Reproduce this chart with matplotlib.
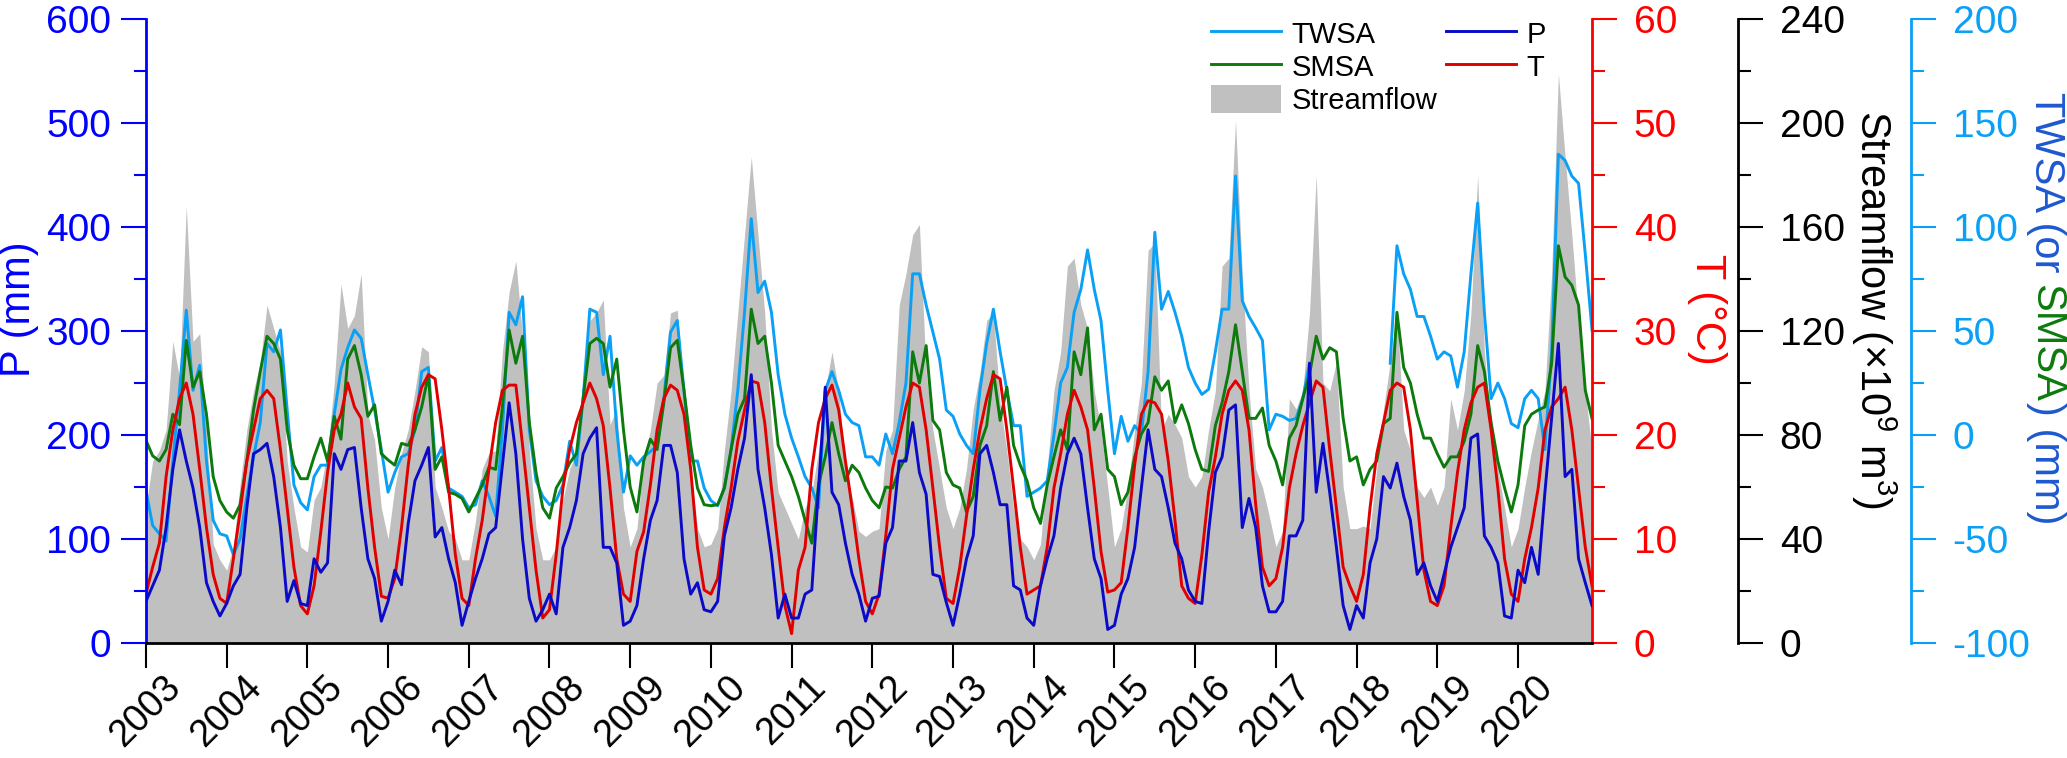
import numpy as np
import matplotlib
matplotlib.use('Agg')
import matplotlib.pyplot as plt
from matplotlib.patches import Patch
from matplotlib.ticker import MultipleLocator

plt.rcParams['font.family'] = ['Liberation Sans', 'DejaVu Sans']
plt.rcParams['axes.unicode_minus'] = False
plt.rcParams['mathtext.default'] = 'regular'

nan = np.nan
years = list(range(2003, 2021))

# monthly values, Jan 2003 - Dec 2020
p_mm = [
    40, 55, 70, 111, 167, 205, 175, 149, 111, 58, 40, 26,
    38, 55, 66, 130, 182, 186, 192, 160, 111, 40, 60, 38,
    36, 81, 68, 77, 182, 167, 186, 188, 130, 81, 62, 21,
    40, 70, 56, 115, 156, 171, 188, 102, 111, 81, 58, 17,
    40, 62, 81, 105, 111, 171, 231, 182, 100, 43, 21, 32,
    47, 28, 92, 111, 137, 182, 197, 207, 92, 92, 77, 17,
    21, 36, 81, 118, 137, 190, 190, 164, 81, 47, 58, 32,
    30, 40, 103, 130, 167, 197, 258, 167, 130, 85, 24, 47,
    24, 24, 47, 51, 149, 246, 145, 133, 96, 66, 47, 21,
    43, 45, 96, 111, 175, 175, 212, 164, 143, 66, 64, 39,
    17, 47, 81, 103, 182, 190, 164, 133, 133, 55, 51, 24,
    17, 55, 81, 103, 149, 182, 197, 182, 130, 81, 62, 13,
    17, 47, 62, 92, 149, 205, 167, 160, 130, 96, 81, 51,
    40, 38, 107, 164, 179, 224, 229, 111, 139, 111, 55, 30,
    30, 40, 103, 103, 118, 269, 145, 192, 145, 92, 36, 13,
    36, 24, 77, 100, 160, 149, 173, 141, 118, 66, 77, 55,
    40, 66, 92, 111, 130, 197, 201, 103, 92, 77, 26, 24,
    70, 58, 92, 66, 145, 216, 288, 160, 167, 81, 58, 36,
]

t_degc = [
    4.7, 7.3, 9.6, 16.0, 20.5, 23.5, 25.0, 22.0, 16.7, 11.1, 6.6, 4.3,
    3.8, 8.1, 12.6, 17.5, 20.5, 23.5, 24.3, 23.5, 18.6, 13.0, 7.3, 3.6,
    2.8, 5.5, 10.7, 16.4, 20.5, 22.0, 25.0, 22.7, 21.6, 14.9, 9.2, 4.5,
    4.3, 6.2, 11.1, 17.1, 22.0, 24.6, 25.8, 25.4, 20.5, 14.9, 8.5, 4.3,
    3.6, 8.1, 11.8, 16.7, 21.2, 24.3, 24.8, 24.8, 19.0, 13.0, 7.0, 2.4,
    3.2, 8.5, 14.9, 18.6, 21.2, 23.1, 25.0, 23.5, 20.9, 14.9, 8.1, 4.7,
    4.0, 8.8, 10.7, 15.2, 20.5, 23.5, 24.8, 24.3, 22.0, 16.7, 9.2, 5.1,
    4.7, 6.2, 11.1, 14.9, 19.4, 22.4, 25.2, 25.0, 21.2, 14.9, 9.2, 3.6,
    0.9, 7.0, 9.2, 16.7, 21.2, 23.5, 24.8, 22.4, 17.5, 13.0, 8.1, 4.0,
    2.8, 4.7, 10.3, 16.7, 19.7, 22.7, 25.0, 24.6, 20.5, 14.9, 9.2, 4.3,
    3.8, 7.3, 12.2, 16.7, 20.5, 23.5, 25.8, 25.4, 20.5, 14.9, 9.2, 4.7,
    5.1, 5.5, 9.2, 14.9, 18.2, 22.0, 24.3, 22.7, 20.5, 14.9, 8.8, 4.9,
    5.1, 5.8, 11.1, 17.1, 22.0, 23.3, 23.1, 22.0, 17.5, 11.8, 5.5, 4.3,
    3.8, 8.5, 14.5, 17.9, 22.0, 24.3, 25.2, 24.3, 20.5, 13.3, 7.3, 5.5,
    6.2, 9.2, 14.9, 18.2, 20.9, 23.1, 25.2, 24.6, 18.6, 13.0, 7.3, 5.5,
    4.0, 6.6, 13.0, 18.2, 21.2, 24.3, 25.0, 24.6, 20.5, 13.7, 7.0, 4.0,
    3.6, 5.5, 11.1, 16.4, 20.5, 23.1, 24.6, 25.0, 20.5, 14.9, 8.1, 4.7,
    4.0, 8.1, 11.1, 14.9, 20.5, 22.7, 23.5, 24.6, 20.5, 14.9, 9.2, 5.5,
]

streamflow = [
    52, 70, 74, 82, 116, 102, 168, 116, 119, 82, 38, 32,
    28, 37, 61, 82, 97, 108, 130, 121, 112, 70, 52, 37,
    35, 55, 60, 74, 100, 138, 121, 126, 142, 88, 78, 52,
    40, 60, 73, 82, 97, 114, 112, 60, 52, 43, 40, 32,
    32, 47, 67, 73, 74, 112, 135, 147, 118, 74, 44, 32,
    32, 37, 55, 67, 73, 100, 124, 127, 132, 84, 90, 52,
    37, 44, 70, 82, 100, 103, 127, 128, 97, 67, 44, 37,
    38, 44, 74, 97, 127, 157, 187, 157, 127, 82, 58, 52,
    46, 40, 52, 58, 74, 97, 112, 97, 67, 56, 43, 41,
    43, 44, 74, 82, 130, 142, 157, 161, 104, 82, 67, 52,
    44, 52, 67, 90, 104, 124, 127, 92, 74, 52, 40, 37,
    32, 38, 67, 97, 112, 145, 148, 130, 121, 97, 82, 60,
    37, 44, 60, 82, 100, 151, 154, 82, 88, 84, 79, 64,
    60, 64, 82, 97, 145, 148, 201, 142, 97, 67, 60, 49,
    37, 43, 94, 90, 97, 127, 180, 100, 97, 108, 60, 44,
    44, 45, 44, 67, 90, 108, 128, 82, 74, 60, 56, 60,
    53, 60, 94, 82, 97, 127, 180, 112, 82, 67, 52, 37,
    44, 60, 74, 86, 97, 142, 219, 187, 157, 124, 97, 74,
]

smsa = [
    -2.5, -10, -12.5, -7, 10, 5, 45.5, 23, 30.5, 10, -20, -31.5,
    -37, -40, -33.5, -12.5, 12, 30.5, 47.5, 44, 36.5, 2.5, -14.5, -21,
    -21, -10.5, -1.5, -12.5, 9, -2, 36.5, 43, 29, 9, 14.5, -9,
    -12, -14.5, -4, -5, 2.5, 13.5, 29, -16.5, -10.5, -27.5, -28.5, -30.5,
    -37, -30.5, -24, -15.5, -16.5, 13.5, 50.5, 34.5, 47.5, 6, -18, -35,
    -40, -25.5, -20, -13.5, -9, 17.5, 44, 46.5, 44, 23, 36.5, 2.5,
    -25, -37, -12.5, -2, -7, 15.5, 42, 45.5, 21.5, -5, -25.5, -33.5,
    -34, -33.5, -25.5, -7, 10, 17.5, 60.5, 44, 47.5, 25, -5, -12.5,
    -20, -29.5, -41, -52, -24, -10.5, 6, -9, -22, -14.5, -18, -25.5,
    -31.5, -35, -25, -25.5, -16.5, -10.5, 40, 25, 43, 7, 2.5, -18,
    -24, -25.5, -37, -29.5, -5, 4.5, 30.5, 7, 23, -5, -14.5, -22,
    -35, -42.5, -24, -10.5, 2.5, -7, 40, 29, 51.5, 2.5, 10, -16.5,
    -20, -33.5, -27.5, -10.5, 0.5, 6, 28, 21.5, 26, 6, 14.5, 5.5,
    -7, -16.5, -17.5, 4.5, 15.5, 30.5, 53, 30.5, 8, 8, 13, -5,
    -12.5, -24, -1.5, 4.5, 17.5, 29, 47.5, 36.5, 42, 40, 8, -12.5,
    -10.5, -24, -16.5, -12.5, 5.5, 8, 59, 32.5, 25, 10, -1.5, -1.5,
    -9, -15.5, -10.5, -10.5, -3, 10, 43, 30.5, 6, -12.5, -25.5, -37,
    -24, 4.5, 10, 12, 13.5, 34.5, 91, 76, 72, 62.5, 21.5, 8,
]

# GRACE gap Jul 2017 - May 2018
twsa = [
    -26.5, -43.5, -47.5, -51, -12.5, 21.5, 60, 21.5, 33.5, -12.5, -41, -47.5,
    -48.5, -57.5, -50, -29.5, -10.5, 6, 44, 40, 50.5, 12, -24, -32.5,
    -36, -20, -14.5, -14.5, 10, 31.5, 42, 50.5, 46.5, 29, 12, -7,
    -27.5, -18, -10.5, -9, 2.5, 30.5, 32.5, -12.5, -6, -25.5, -27.5, -29.5,
    -35, -33.5, -22, -29.5, -39, 2.5, 59, 53, 66.5, 2.5, -22, -29.5,
    -33.5, -31.5, -24, -3, -14.5, 17.5, 60.5, 59, 29, 47.5, 2.5, -27.5,
    -10, -14.5, -10.5, -8, -5, 17.5, 49.5, 55, 21.5, -12.5, -12.5, -25.5,
    -31.5, -34, -25.5, -7, 21.5, 59, 104, 68.5, 74, 59, 29, 10,
    -1.5, -10.5, -20, -25.5, -35, 21.5, 30.5, 21.5, 10, 6, 4.5, -10.5,
    -10.5, -14.5, 0.5, -9, 6, 25, 77.5, 77.5, 62.5, 49.5, 36.5, 12,
    9, 0.5, -5, -9, 21.5, 44, 60.5, 40, 21.5, 4.5, 4.5, -29.5,
    -27.5, -25.5, -22, 0, 25, 32.5, 59, 70, 89, 70, 55, 21.5,
    -9, 9, -3, 4.5, 0.5, 30.5, 97.5, 60.5, 69, 59, 47.5, 32.5,
    25, 19.5, 22, 40, 60.5, 60.5, 124.5, 64.5, 57, 51.5, 45.5, 2.5,
    10, 9, 7, 8, 17.5, 34.5, nan, nan, nan, nan, nan, nan,
    nan, nan, nan, nan, nan, 34.5, 91, 77.5, 70, 57, 57, 47.5,
    36.5, 40, 38, 23, 40, 77.5, 111.5, 59, 17.5, 25, 17.5, 5.5,
    3.5, 17.5, 21.5, 17.5, -7, 40, 135, 132, 124.5, 121, 87, 50.5,
]

t = 2003 + np.arange(len(p_mm)) / 12

c_paxis = '#0000FF'
c_pline = '#0A0AC8'
c_taxis = '#FF0000'
c_tline = '#E00000'
c_twsa = '#0AA0F5'
c_smsa = '#0C7A0C'
c_flow = '#C0C0C0'
c_lab = '#1E58D0'

tick_fs = 28
lab_fs = 30

fig = plt.figure(figsize=(20.67, 7.58), dpi=100)
ax_p = fig.add_axes([0.0706, 0.1517, 0.6996, 0.8232])
ax_t = ax_p.twinx()
ax_s = ax_p.twinx()
ax_w = ax_p.twinx()

ax_s.set_zorder(1)
ax_w.set_zorder(2)
ax_t.set_zorder(3)
ax_p.set_zorder(4)
for a in (ax_p, ax_t, ax_s, ax_w):
    a.patch.set_visible(False)

ax_s.fill_between(t, 0, streamflow, color=c_flow, lw=0)
h_twsa, = ax_w.plot(t, twsa, color=c_twsa, lw=2.1)
h_smsa, = ax_w.plot(t, smsa, color=c_smsa, lw=2.1)
h_t, = ax_t.plot(t, t_degc, color=c_tline, lw=2.1)
h_p, = ax_p.plot(t, p_mm, color=c_pline, lw=2.1)

ax_p.set_xlim(t[0], t[-1])
ax_p.set_xticks(years)
ax_p.set_xticklabels([str(y) for y in years], rotation=45)
ax_p.tick_params(axis='x', length=18, width=1.5, labelsize=27, pad=1)

# P axis (left)
ax_p.set_ylim(0, 600)
ax_p.yaxis.set_major_locator(MultipleLocator(100))
ax_p.yaxis.set_minor_locator(MultipleLocator(50))
ax_p.tick_params(axis='y', which='major', length=18, width=1.5, colors=c_paxis,
                 labelsize=tick_fs, pad=7)
ax_p.tick_params(axis='y', which='minor', length=9, width=1.5, colors=c_paxis)
ax_p.spines['top'].set_visible(False)
ax_p.spines['right'].set_visible(False)
ax_p.spines['left'].set_color(c_paxis)
ax_p.spines['left'].set_linewidth(2)
ax_p.spines['bottom'].set_linewidth(2)
ax_p.set_ylabel('P (mm)', fontsize=lab_fs, color=c_paxis, va='center', ha='center')
ax_p.yaxis.set_label_coords(-0.088, 0.535)


def right_axis(a, lo, hi, major, minor, color, offset=None):
    a.set_ylim(lo, hi)
    a.yaxis.set_major_locator(MultipleLocator(major))
    a.yaxis.set_minor_locator(MultipleLocator(minor))
    for s in ('left', 'top', 'bottom'):
        a.spines[s].set_visible(False)
    a.spines['right'].set_color(color)
    a.spines['right'].set_linewidth(2)
    if offset is not None:
        a.spines['right'].set_position(('axes', offset))
    a.tick_params(axis='y', which='major', length=18, width=1.5, colors=color,
                  labelsize=tick_fs, pad=12)
    a.tick_params(axis='y', which='minor', length=9, width=1.5, colors=color)


right_axis(ax_t, 0, 60, 10, 5, c_taxis)
right_axis(ax_s, 0, 240, 40, 20, 'black', 1.101)
right_axis(ax_w, -100, 200, 50, 25, c_twsa, 1.2206)

ax_t.set_ylabel('T (°C)', fontsize=lab_fs, color=c_taxis, rotation=270, va='center', ha='center')
ax_t.yaxis.set_label_coords(1.0795, 0.535)
ax_s.set_ylabel('Streamflow (×10$^9$ m$^3$)', fontsize=lab_fs, color='black',
                rotation=270, va='center', ha='center')
ax_s.yaxis.set_label_coords(1.195, 0.535)

# two-colour label for the TWSA / SMSA axis
txt = fig.text(0.9898, 0.8786, 'TWSA (or', fontsize=lab_fs, color=c_lab,
               rotation=270, ha='center', va='top')
txt = ax_w.annotate('SMSA', xy=(0.5, 0), xycoords=txt, xytext=(0, -8.3),
                    textcoords='offset points', fontsize=lab_fs, color=c_smsa,
                    rotation=270, ha='center', va='top')
ax_w.annotate(') (mm)', xy=(0.5, 0), xycoords=txt, fontsize=lab_fs, color=c_lab,
              rotation=270, ha='center', va='top')

leg_kw = dict(loc='upper left', bbox_transform=fig.transFigure, frameon=False,
              fontsize=21, handlelength=2.4, handleheight=1.1, handletextpad=0.35,
              labelspacing=0.1, borderpad=0, borderaxespad=0)
leg1 = ax_p.legend([h_twsa, h_smsa, Patch(facecolor=c_flow, edgecolor='none')],
                   ['TWSA', 'SMSA', 'Streamflow'],
                   bbox_to_anchor=(1211 / 2067, 1 - 19 / 758), **leg_kw)
ax_p.add_artist(leg1)
ax_p.legend([h_p, h_t], ['P', 'T'], bbox_to_anchor=(1446 / 2067, 1 - 19 / 758), **leg_kw)

fig.savefig('out.png', dpi=100)
